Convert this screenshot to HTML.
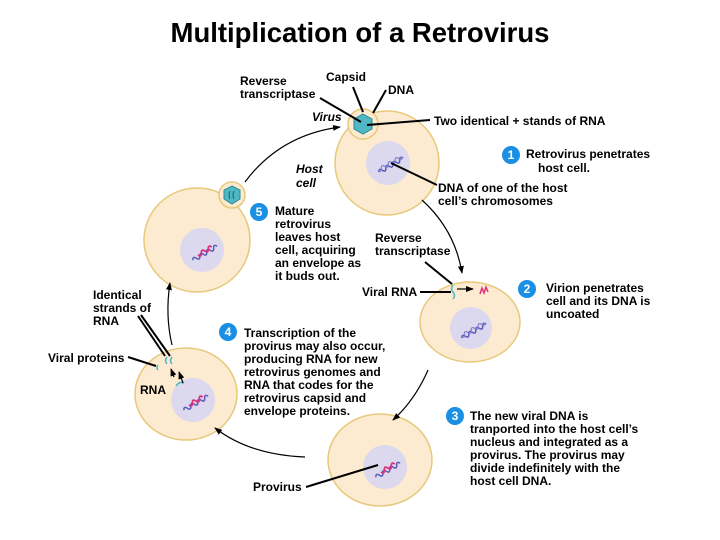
<!DOCTYPE html>
<html><head><meta charset="utf-8"><style>
html,body{margin:0;padding:0;background:#fff;}
svg{display:block;}
text{font-family:"Liberation Sans",Arial,sans-serif;font-weight:bold;font-size:12px;fill:#000;}
.n{fill:#fff;font-size:12px;text-anchor:middle;}
</style></head><body>
<svg width="720" height="540" viewBox="0 0 720 540" xmlns="http://www.w3.org/2000/svg">
<defs>
<marker id="a" markerWidth="8" markerHeight="8" refX="7" refY="4" orient="auto" markerUnits="userSpaceOnUse"><path d="M0,1 L8,4 L0,7 Z" fill="#000"/></marker>
<g id="dna"><path d="M-14,6 q2,-4 4,0 t4,0 t4,0 t4,0 t4,0 t4,0 t4,0" stroke="#5a5ab8" stroke-width="1.5" fill="none" transform="rotate(-30)"/><path d="M-14,4 q2,4 4,0 t4,0 t4,0 t4,0 t4,0 t4,0 t4,0" stroke="#8080d0" stroke-width="1.2" fill="none" transform="rotate(-30)"/></g>
<g id="dnap"><path d="M-14,6 q2,-4 4,0 t4,0 t4,0 t4,0 t4,0 t4,0 t4,0" stroke="#5a5ab8" stroke-width="1.5" fill="none" transform="rotate(-30)"/><path d="M-7,4 q2,4 4,0 t4,0 t4,0 t4,0" stroke="#e0307a" stroke-width="1.8" fill="none" transform="rotate(-30)"/></g>
</defs>
<text x="360" y="42" style="font-size:27.5px;text-anchor:middle">Multiplication of a Retrovirus</text>

<g fill="#fcebd0" stroke="#e8c87a" stroke-width="1.5">
<ellipse cx="387" cy="163" rx="52" ry="52"/>
<ellipse cx="197" cy="240" rx="53" ry="52"/>
<ellipse cx="470" cy="322" rx="50" ry="40"/>
<ellipse cx="380" cy="460" rx="52" ry="46"/>
<ellipse cx="186" cy="394" rx="51" ry="46"/>
<circle cx="363" cy="124" r="15"/>
<circle cx="232" cy="195" r="13"/>
</g>
<g fill="#dcd8ee">
<circle cx="388" cy="163" r="22"/>
<circle cx="202" cy="250" r="22"/>
<circle cx="471" cy="328" r="21"/>
<circle cx="385" cy="467" r="22"/>
<circle cx="193" cy="400" r="22"/>
</g>
<use href="#dna" x="388" y="160"/>
<use href="#dnap" x="202" y="248"/>
<use href="#dna" x="471" y="326"/>
<use href="#dnap" x="385" y="465"/>
<use href="#dnap" x="193" y="398"/>
<polygon points="363,114 372,119 372,129 363,134 354,129 354,119" fill="#4fb8c4" stroke="#2a8a98"/>
<polygon points="232,186 240,190 240,199 232,204 224,199 224,190" fill="#4fb8c4" stroke="#2a8a98"/>
<path d="M230,191 q-2,4 0,8 M234,191 q-2,4 0,8" stroke="#1a6070" fill="none"/>
<path d="M453,285 q-3,4 0,7 q3,4 0,7" stroke="#4fb8c4" stroke-width="1.5" fill="none"/>
<path d="M480,294 l2,-6 l2,5 l2,-6 l2,5" stroke="#e0307a" stroke-width="1.5" fill="none"/>
<path d="M167,357 q-3,4 0,7 M172,357 q-3,4 0,7" stroke="#4fb8c4" stroke-width="1.5" fill="none"/>
<path d="M158,365 q-2,3 0,5" stroke="#4fb8c4" stroke-width="1.5" fill="none"/>
<path d="M176,386 q3,-5 8,-3" stroke="#4fb8c4" stroke-width="1.5" fill="none"/>

<g stroke="#000" stroke-width="1.2" fill="none" marker-end="url(#a)">
<path d="M245,182 Q280,135 340,127"/>
<path d="M422,200 Q455,230 462,273"/>
<path d="M428,370 Q415,400 393,420"/>
<path d="M305,457 Q250,455 215,428"/>
<path d="M172,345 Q165,315 170,283"/>
<path d="M457,289 L473,289"/>
<path d="M183,383 L179,372"/>
<path d="M174,377 L171,369"/>
</g>
<g stroke="#000" stroke-width="2">
<line x1="320" y1="98" x2="361" y2="122"/>
<line x1="353" y1="87" x2="363" y2="112"/>
<line x1="386" y1="90" x2="373" y2="113"/>
<line x1="430" y1="120" x2="367" y2="125"/>
<line x1="391" y1="163" x2="437" y2="185"/>
<line x1="425" y1="262" x2="452" y2="284"/>
<line x1="420" y1="292" x2="451" y2="292"/>
<line x1="138" y1="316" x2="165" y2="356"/>
<line x1="141" y1="315" x2="170" y2="356"/>
<line x1="128" y1="357" x2="156" y2="366"/>
<line x1="306" y1="487" x2="378" y2="465"/>
</g>

<g fill="#1a8fe3">
<circle cx="511" cy="155" r="9"/><circle cx="259" cy="212" r="9"/><circle cx="527" cy="289" r="9"/><circle cx="228" cy="332" r="9"/><circle cx="455" cy="416" r="9"/>
</g>
<text class="n" x="511" y="159">1</text><text class="n" x="259" y="216">5</text><text class="n" x="527" y="293">2</text><text class="n" x="228" y="336">4</text><text class="n" x="455" y="420">3</text>

<text x="240" y="85">Reverse</text><text x="240" y="98">transcriptase</text>
<text x="326" y="81">Capsid</text>
<text x="388" y="94">DNA</text>
<text x="312" y="121" style="font-style:italic">Virus</text>
<text x="434" y="125">Two identical + stands of RNA</text>
<text x="526" y="158">Retrovirus penetrates</text><text x="538" y="172">host cell.</text>
<text x="296" y="173" style="font-style:italic">Host</text><text x="296" y="187" style="font-style:italic">cell</text>
<text x="438" y="192">DNA of one of the host</text><text x="438" y="205">cell’s chromosomes</text>
<text x="275" y="215">Mature</text><text x="275" y="228">retrovirus</text><text x="275" y="241">leaves host</text><text x="275" y="254">cell, acquiring</text><text x="275" y="267">an envelope as</text><text x="275" y="280">it buds out.</text>
<text x="375" y="242">Reverse</text><text x="375" y="255">transcriptase</text>
<text x="362" y="296">Viral RNA</text>
<text x="546" y="292">Virion penetrates</text><text x="546" y="305">cell and its DNA is</text><text x="546" y="318">uncoated</text>
<text x="93" y="299">Identical</text><text x="93" y="312">strands of</text><text x="93" y="325">RNA</text>
<text x="48" y="362">Viral proteins</text>
<text x="140" y="394">RNA</text>
<text x="244" y="337">Transcription of the</text><text x="244" y="350">provirus may also occur,</text><text x="244" y="363">producing RNA for new</text><text x="244" y="376">retrovirus genomes and</text><text x="244" y="389">RNA that codes for the</text><text x="244" y="402">retrovirus capsid and</text><text x="244" y="415">envelope proteins.</text>
<text x="470" y="420">The new viral DNA is</text><text x="470" y="433">tranported into the host cell’s</text><text x="470" y="446">nucleus and integrated as a</text><text x="470" y="459">provirus. The provirus may</text><text x="470" y="472">divide indefinitely with the</text><text x="470" y="485">host cell DNA.</text>
<text x="253" y="491">Provirus</text>
</svg>
</body></html>
